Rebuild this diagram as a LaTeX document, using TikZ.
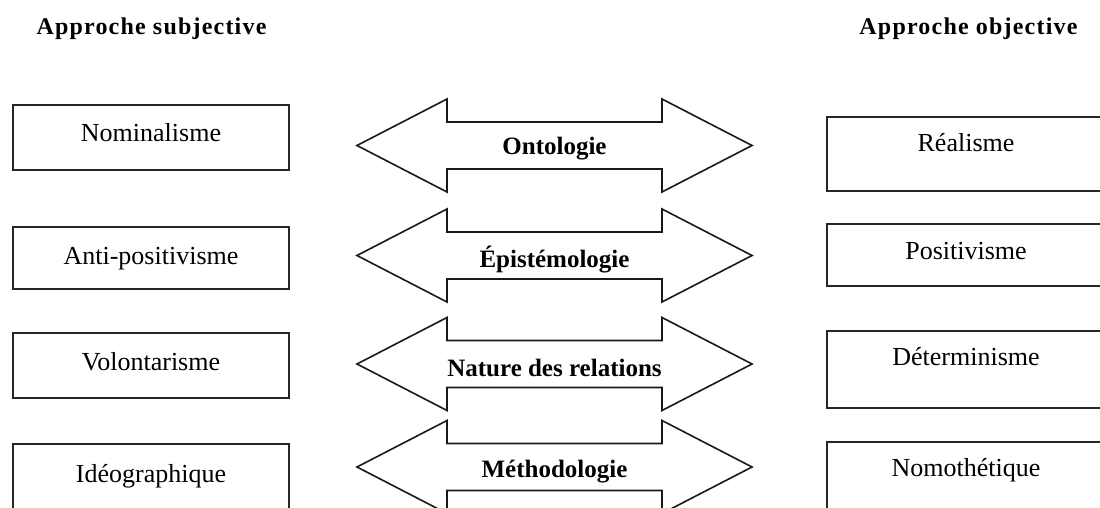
\documentclass[tikz,border=0pt]{standalone}
\usepackage{fontspec}
\setmainfont{Liberation Serif}
\begin{document}
\begin{tikzpicture}[x=0.5pt,y=-0.5pt,
  box/.style={draw=black!85, line width=1.1pt, fill=white, inner sep=0pt},
  boxtext/.style={anchor=base, inner sep=0pt, font=\fontsize{13pt}{15pt}\selectfont},
  title/.style={anchor=base, inner sep=0pt, font=\fontsize{12pt}{14pt}\selectfont\bfseries\addfontfeature{LetterSpace=5}},
  arrowtext/.style={anchor=base, inner sep=0pt, font=\fontsize{12.5pt}{14pt}\selectfont\bfseries},
  dblarrow/.style={draw=black!90, line width=0.8pt, fill=white, line join=miter}]
\clip (0,0) rectangle (1100,508);
\fill[white] (0,0) rectangle (1100,508);

% column headings
\node[title] (tl) at (151.5,35) {Approche subjective};
\node[title] (tr) at (968.5,35) {Approche objective};

% left column boxes (top, bottom, text baseline)
\foreach \n/\t/\b/\bl/\txt in {1/105/170/142/Nominalisme,
                                  2/227/289/265/Anti-positivisme,
                                  3/333/398/371/Volontarisme,
                                  4/444/520/482/Idéographique}{
  \draw[box] (13,\t) rectangle (289,\b);
  \node[boxtext] (l\n) at (151,\bl) {\txt};
}

% right column boxes
\foreach \n/\t/\b/\bl/\txt in {1/117/191/152/Réalisme,
                                  2/224/286/260/Positivisme,
                                  3/331/408/365/Déterminisme,
                                  4/442/520/477/Nomothétique}{
  \draw[box] (827,\t) rectangle (1105,\b);
  \node[boxtext] (r\n) at (966,\bl) {\txt};
}

% double-headed block arrows (centre line, text baseline)
\foreach \n/\c/\bl/\txt in {1/145.5/155/Ontologie,
                              2/255.5/268/Épistémologie,
                              3/364/377/Nature des relations,
                              4/467/478/Méthodologie}{
  \draw[dblarrow] (357,\c) -- (447,\c-46.5) -- (447,\c-23.5) -- (662,\c-23.5)
     -- (662,\c-46.5) -- (752,\c) -- (662,\c+46.5) -- (662,\c+23.5)
     -- (447,\c+23.5) -- (447,\c+46.5) -- cycle;
  \node[arrowtext] (a\n) at (554.5,\bl) {\txt};
}
\end{tikzpicture}
\end{document}
